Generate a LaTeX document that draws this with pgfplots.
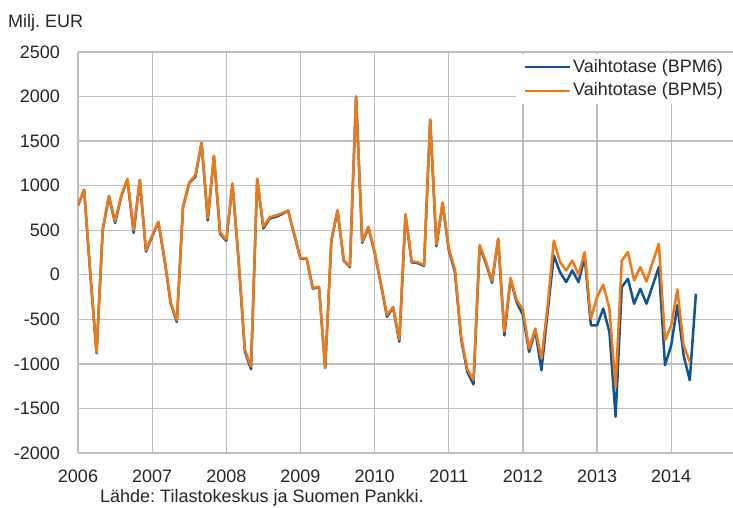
\documentclass[border=0pt]{standalone}
\usepackage{pgfplots}
\pgfplotsset{compat=1.18}
\usepackage{fontspec}
\setmainfont{Liberation Sans}
\definecolor{bpmblue}{RGB}{16,84,146}
\definecolor{bpmorange}{RGB}{238,121,22}
\definecolor{gridgray}{RGB}{190,190,190}
\begin{document}
\frenchspacing
\fontsize{18bp}{21bp}\selectfont
\begin{tikzpicture}
\begin{axis}[
  scale only axis, width=655bp, height=401bp,
  xmin=0, xmax=106, ymin=-2000, ymax=2500,
  axis x line*=bottom, axis y line*=left,
  axis line style={gridgray, line width=1.3bp, -},
  xtick={0,12,24,36,48,60,72,84,96},
  xticklabels={2006,2007,2008,2009,2010,2011,2012,2013,2014},
  ytick={-2000,-1500,-1000,-500,0,500,1000,1500,2000,2500},
  yticklabels={-2000,-1500,-1000,-500,0,500,1000,1500,2000,2500},
  major tick length=0pt,
  grid=major, grid style={gridgray, line width=1.3bp},
  tick label style={font=\fontsize{18bp}{21bp}\selectfont, text=black!85},
  yticklabel style={xshift=-12bp},
  xticklabel style={yshift=-11bp},
  legend style={at={(1,1)}, yshift=-2bp, anchor=north east, draw=none, fill=white,
    font=\fontsize{18bp}{21bp}\selectfont, text=black!85, row sep=4bp, inner xsep=8bp, inner ysep=3bp},
  legend cell align=left,
  legend image code/.code={\draw[#1] (0bp,0bp) -- (45bp,0bp);},
]
\addplot[bpmblue, line width=2.5bp, line join=round, no marks] coordinates {
(0,780)(1,950)(2,0)(3,-880)(4,500)(5,880)(6,580)(7,880)(8,1070)(9,470)(10,1060)(11,260)
(12,430)(13,590)(14,170)(15,-320)(16,-530)(17,760)(18,1030)(19,1100)(20,1480)(21,610)(22,1330)(23,460)
(24,380)(25,1020)(26,150)(27,-860)(28,-1060)(29,1070)(30,520)(31,630)(32,650)(33,680)(34,720)(35,450)
(36,180)(37,180)(38,-155)(39,-140)(40,-1045)(41,380)(42,720)(43,160)(44,85)(45,2000)(46,360)(47,530)
(48,250)(49,-100)(50,-470)(51,-370)(52,-750)(53,670)(54,140)(55,130)(56,100)(57,1740)(58,320)(59,800)
(60,280)(61,30)(62,-720)(63,-1090)(64,-1230)(65,320)(66,130)(67,-90)(68,400)(69,-680)(70,-50)(71,-310)
(72,-450)(73,-866)(74,-623)(75,-1071)(76,-420)(77,216)(78,30)(79,-82)(80,49)(81,-82)(82,198)(83,-567)
(84,-567)(85,-380)(86,-642)(87,-1593)(88,-138)(89,-45)(90,-325)(91,-157)(92,-325)(93,-120)(94,86)(95,-1015)
(96,-791)(97,-343)(98,-903)(99,-1183)(100,-213)
};
\addlegendentry{Vaihtotase (BPM6)}
\addplot[bpmorange, line width=2.5bp, line join=round, no marks] coordinates {
(0,780)(1,955)(2,10)(3,-870)(4,510)(5,885)(6,600)(7,885)(8,1075)(9,500)(10,1065)(11,275)
(12,440)(13,595)(14,180)(15,-310)(16,-510)(17,770)(18,1035)(19,1120)(20,1480)(21,640)(22,1335)(23,475)
(24,395)(25,1025)(26,160)(27,-840)(28,-1030)(29,1080)(30,540)(31,645)(32,665)(33,690)(34,720)(35,455)
(36,185)(37,185)(38,-150)(39,-135)(40,-1045)(41,385)(42,725)(43,170)(44,95)(45,2000)(46,375)(47,540)
(48,260)(49,-90)(50,-450)(51,-360)(52,-725)(53,680)(54,150)(55,140)(56,110)(57,1740)(58,340)(59,810)
(60,300)(61,60)(62,-690)(63,-1060)(64,-1180)(65,335)(66,150)(67,-70)(68,405)(69,-640)(70,-35)(71,-285)
(72,-390)(73,-828)(74,-604)(75,-940)(76,-350)(77,384)(78,142)(79,49)(80,160)(81,0)(82,254)(83,-493)
(84,-250)(85,-112)(86,-380)(87,-1258)(88,160)(89,254)(90,-63)(91,86)(92,-75)(93,142)(94,347)(95,-735)
(96,-567)(97,-164)(98,-791)(99,-978)
};
\addlegendentry{Vaihtotase (BPM5)}
\coordinate (SW) at (rel axis cs:0,0);
\coordinate (NE) at (rel axis cs:1,1);
\coordinate (NW) at (rel axis cs:0,1);
\end{axis}
\node[anchor=base west, inner sep=0pt, text=black!85] at ([xshift=-70bp,yshift=24bp]NW) {Milj. EUR};
\node[anchor=base west, inner sep=0pt, text=black!85] at ([xshift=22bp,yshift=-50bp]SW) {Lähde: Tilastokeskus ja Suomen Pankki.};
\pgfresetboundingbox
\path[use as bounding box] ([xshift=-78bp,yshift=-55bp]SW) rectangle ([yshift=52bp]NE);
\end{tikzpicture}
\end{document}
